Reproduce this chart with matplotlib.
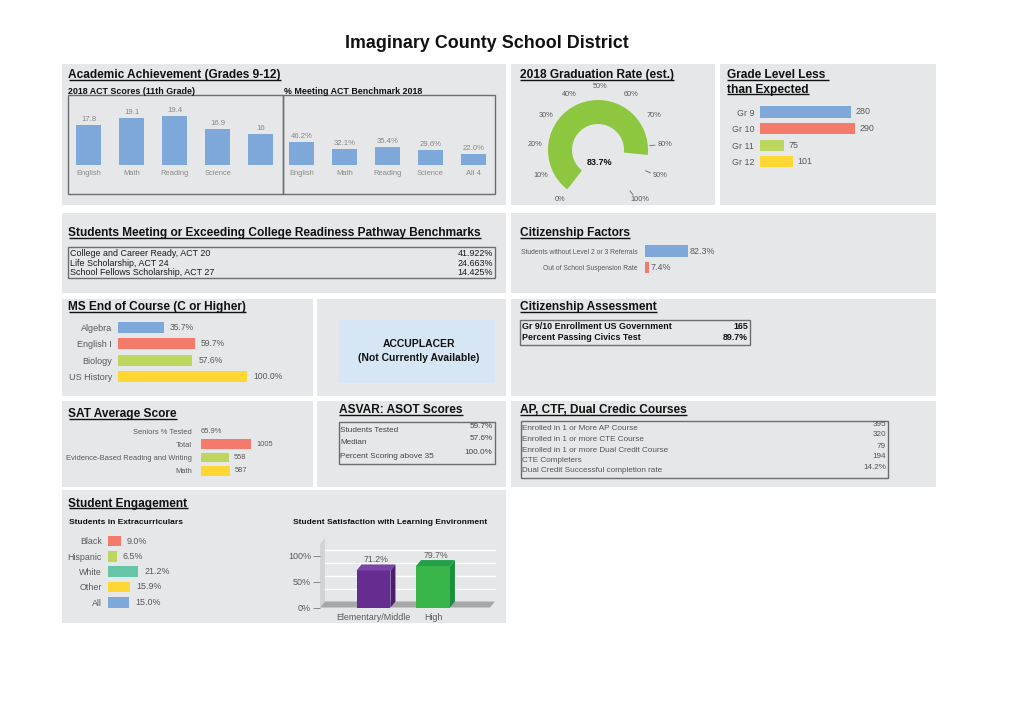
import matplotlib
matplotlib.use('Agg')
import matplotlib.pyplot as plt
from matplotlib.patches import Rectangle, Wedge, Polygon
from matplotlib.transforms import offset_copy
import numpy as np

plt.rcParams['font.family'] = ['Liberation Sans', 'DejaVu Sans']

# ---------------- data ----------------
main_title = "Imaginary County School District"

act_subjects = ["English", "Math", "Reading", "Science", ""]
act_scores = [17.8, 19.1, 19.4, 16.9, 16]
bench_subjects = ["English", "Math", "Reading", "Science", "All 4"]
bench_pct = [46.2, 32.1, 35.4, 29.6, 22.0]

grad_rate = 83.7
gauge_ticks = [0, 10, 20, 30, 40, 50, 60, 70, 80, 90, 100]

grade_labels = ["Gr 9", "Gr 10", "Gr 11", "Gr 12"]
grade_values = [280, 290, 75, 101]

ready_labels = ["College and Career Ready, ACT 20", "Life Scholarship, ACT 24",
                "School Fellows Scholarship, ACT 27"]
ready_values = ["41.922%", "24.663%", "14.425%"]

cit_labels = ["Students without Level 2 or 3 Referrals", "Out of School Suspension Rate"]
cit_values = [82.3, 7.4]

ms_labels = ["Algebra", "English I", "Biology", "US History"]
ms_values = [35.7, 59.7, 57.6, 100.0]

assess_labels = ["Gr 9/10 Enrollment US Government", "Percent Passing Civics Test"]
assess_values = ["165", "89.7%"]

sat_tested_label = "Seniors % Tested"
sat_tested_value = "65.9%"
sat_labels = ["Total", "Evidence-Based Reading and Writing", "Math"]
sat_values = [1005, 558, 587]

asvab_labels = ["Students Tested", "Median", "Percent Scoring above 35"]
asvab_values = ["59.7%", "57.6%", "100.0%"]

ap_labels = ["Enrolled in 1 or More AP Course", "Enrolled in 1 or more CTE Course",
             "Enrolled in 1 or more Dual Credit Course", "CTE Completers",
             "Dual Credit Successful completion rate"]
ap_values = ["395", "320", "79", "194", "14.2%"]

extra_labels = ["Black", "Hispanic", "White", "Other", "All"]
extra_values = [9.0, 6.5, 21.2, 15.9, 15.0]

env_labels = ["Elementary/Middle", "High"]
env_values = [71.2, 79.7]

# ---------------- styles ----------------
W, H = 1024, 720
PANEL = '#e6e7e8'
BLUE = '#7ea7da'
RED = '#f47b6b'
LGREEN = '#bdd75e'
YELLOW = '#fed732'
TEAL = '#66c5a6'
GGREEN = '#8dc63f'
LBL = '#595959'

fig = plt.figure(figsize=(W / 100, H / 100), dpi=100)
fig.patch.set_facecolor('white')
bg = fig.add_axes([0, 0, 1, 1])
bg.set_xlim(0, W)
bg.set_ylim(H, 0)
bg.axis('off')
bg.set_zorder(0)


def px_axes(x0, y0, x1, y1, z=2):
    ax = fig.add_axes([x0 / W, 1 - y1 / H, (x1 - x0) / W, (y1 - y0) / H])
    ax.patch.set_alpha(0)
    for s in ax.spines.values():
        s.set_visible(False)
    ax.set_zorder(z)
    return ax


def txt(x, y, s, size, color='#222', weight='normal', ha='left', va='center'):
    return bg.text(x, y, s, fontsize=size, color=color, fontweight=weight, ha=ha, va=va)


titles = []


def ptitle(x, y, s, size=8.6):
    t = bg.text(x, y, s, fontsize=size, fontweight='bold', color='#111',
                ha='left', va='baseline')
    titles.append((t, x, y))


# ---------------- panels ----------------
panels = [(62, 64, 506, 205), (511, 64, 715, 205), (720, 64, 936, 205),
          (62, 213, 506, 293), (511, 213, 936, 293),
          (62, 299, 313, 396), (317, 299, 506, 396), (511, 299, 936, 396),
          (62, 401, 313, 487), (317, 401, 506, 487), (511, 401, 936, 487),
          (62, 490, 506, 623)]
for x0, y0, x1, y1 in panels:
    bg.add_patch(Rectangle((x0, y0), x1 - x0, y1 - y0, facecolor=PANEL, edgecolor='none'))

bg.text(486.5, 48, main_title, fontsize=12.9, fontweight='bold', color='#111',
        ha='center', va='baseline')

# ---------------- horizontal bar helper ----------------
def hbars(x0, yc_first, spacing, px_per_unit, labels, values, colors, bar_h,
          label_size, label_gap, val_size, val_gap, fmt, width_px=200):
    n = len(values)
    y0 = yc_first - spacing / 2
    y1 = yc_first + spacing * (n - 0.5)
    ax = px_axes(x0, y0, x0 + width_px, y1)
    ax.set_xlim(0, width_px / px_per_unit)
    ax.set_ylim(n - 0.5, -0.5)
    ax.barh(np.arange(n), values, height=bar_h, color=colors)
    ax.set_yticks(np.arange(n))
    ax.set_yticklabels(labels, fontsize=label_size, color=LBL)
    ax.tick_params(axis='y', length=0, pad=label_gap * 0.72)
    ax.set_xticks([])
    tr = offset_copy(ax.transData, fig=fig, x=val_gap, y=0, units='dots')
    for i, v in enumerate(values):
        ax.text(v, i, fmt(v), transform=tr, fontsize=val_size, color=LBL,
                ha='left', va='center')
    return ax


# ---------------- Academic Achievement ----------------
ptitle(68.5, 78, "Academic Achievement (Grades 9-12)")
txt(68, 92, "2018 ACT Scores (11th Grade)", 6.4, '#111', 'bold')
txt(284.3, 92, "% Meeting ACT Benchmark 2018", 6.4, '#111', 'bold')
bg.add_patch(Rectangle((68, 95), 215, 99, fill=False, edgecolor='#6d6d6d', lw=1))
bg.add_patch(Rectangle((283, 95), 212, 99, fill=False, edgecolor='#6d6d6d', lw=1))


def vbars(x_left, x_right, first_center, spacing, y_top, y_bottom, ymin, px_per_unit,
          labels, values, fmt):
    ax = px_axes(x_left, y_top, x_right, y_bottom)
    n = len(values)
    ax.set_xlim(-(first_center - x_left) / spacing, (x_right - first_center) / spacing)
    ax.set_ylim(ymin, ymin + (y_bottom - y_top) / px_per_unit)
    ax.bar(np.arange(n), values, width=0.59, color=BLUE)
    ax.set_xticks(np.arange(n))
    ax.set_xticklabels(labels, fontsize=5.4, color='#888888')
    ax.tick_params(axis='x', length=0, pad=3.4)
    ax.set_yticks([])
    tr = offset_copy(ax.transData, fig=fig, x=0, y=2, units='dots')
    for i, v in enumerate(values):
        ax.text(i, v, fmt(v), transform=tr, ha='center', va='bottom',
                fontsize=5.6, color='#888888')
    return ax


vbars(68, 283, 88.7, 42.95, 100, 165.3, 10.07, 5.25, act_subjects, act_scores,
      lambda v: f"{v:g}")
vbars(283, 495, 301.8, 42.9, 100, 165.3, 0, 0.51, bench_subjects, bench_pct,
      lambda v: f"{v:.1f}%")

# ---------------- Graduation gauge ----------------
ptitle(520, 78, "2018 Graduation Rate (est.)")
gcx, gcy = 598, 150
gax = px_axes(gcx - 85, gcy - 85, gcx + 85, gcy + 85, z=3)
gax.set_xlim(-85, 85)
gax.set_ylim(-85, 85)
gax.axis('off')
a_start, a_end = 232, -52


def gang(p):
    return a_start + (a_end - a_start) * p / 100.0


gax.add_patch(Wedge((0, 0), 50, gang(grad_rate), a_start, width=24,
                    facecolor=GGREEN, edgecolor='none'))
for t in gauge_ticks:
    a = np.deg2rad(gang(t))
    gax.text(63 * np.cos(a) + 2 + 2 * np.cos(a), 63 * np.sin(a), f"{t}%",
             ha='center', va='center', fontsize=5.3, color=LBL)
    if t >= (grad_rate // 10) * 10:
        gax.plot([52 * np.cos(a), 57 * np.cos(a)], [52 * np.sin(a), 57 * np.sin(a)],
                 color='#777777', lw=0.7)
gax.text(2, -13, f"{grad_rate}%", ha='center', va='center', fontsize=6.5,
         fontweight='bold', color='#111')

# ---------------- Grade Level ----------------
ptitle(727.3, 78, "Grade Level Less ")
ptitle(727.3, 92.5, "than Expected")
hbars(759.7, 112, 16.6, 0.327, grade_labels, grade_values, [BLUE, RED, LGREEN, YELLOW],
      0.68, 6.4, 5.7, 6.4, 4.5, lambda v: f"{v}", width_px=150)

# ---------------- College readiness ----------------
ptitle(68.5, 235.8, "Students Meeting or Exceeding College Readiness Pathway Benchmarks")


def table(x0, y0, x1, y1, labels, values, label_ys, value_ys, size, color, weight='normal'):
    bg.add_patch(Rectangle((x0, y0), x1 - x0, y1 - y0, fill=False,
                           edgecolor='#6d6d6d', lw=1))
    for l, y in zip(labels, label_ys):
        txt(x0 + 1.5, y, l, size, color, weight)
    for v, y in zip(values, value_ys):
        txt(x1 - 2, y, v, size, color, weight, ha='right')


table(68, 246.5, 495, 278, ready_labels, ready_values,
      [253.5, 263, 272.5], [253.5, 263, 272.5], 6.4, '#1a1a1a')

# ---------------- Citizenship Factors ----------------
ptitle(520.3, 235.8, "Citizenship Factors")
hbars(645, 251.2, 16.3, 43 / 82.3, cit_labels, cit_values, [BLUE, RED], 0.72,
      4.9, 7.7, 6.4, 2, lambda v: f"{v:.1f}%", width_px=150)

# ---------------- MS End of Course ----------------
ptitle(68.5, 310, "MS End of Course (C or Higher)")
hbars(118, 327.3, 16.45, 1.29, ms_labels, ms_values, [BLUE, RED, LGREEN, YELLOW], 0.65,
      6.5, 6, 6.2, 6, lambda v: f"{v:.1f}%", width_px=150)

# ---------------- ACCUPLACER ----------------
bg.add_patch(Rectangle((339, 320), 155.5, 63, facecolor='#d6e6f5', edgecolor='none'))
txt(418.7, 344.3, "ACCUPLACER", 7.5, '#111', 'bold', ha='center')
txt(418.7, 358.3, "(Not Currently Available)", 7.5, '#111', 'bold', ha='center')

# ---------------- Citizenship Assessment ----------------
ptitle(520, 310, "Citizenship Assessment")
table(520, 320, 750, 345, assess_labels, assess_values,
      [326.7, 337.7], [326.7, 337.7], 6.4, '#111', 'bold')

# ---------------- SAT ----------------
ptitle(68.5, 417.5, "SAT Average Score")
sat_first, sat_sp = 431.3, 13.1
n_sat = len(sat_values) + 1
sax_ = px_axes(201, sat_first - sat_sp / 2, 301, sat_first + sat_sp * (n_sat - 0.5))
sax_.set_xlim(0, 100 / (50 / 1005))
sax_.set_ylim(n_sat - 0.5, -0.5)
sax_.barh(np.arange(1, n_sat), sat_values, height=0.76, color=[RED, LGREEN, YELLOW])
sax_.set_yticks(np.arange(n_sat))
sax_.set_yticklabels([sat_tested_label] + sat_labels, fontsize=5.4, color=LBL)
sax_.tick_params(axis='y', length=0, pad=9 * 0.72)
sax_.set_xticks([])
sax_.text(0, 0, sat_tested_value, fontsize=5.4, color=LBL, ha='left', va='center')
tr = offset_copy(sax_.transData, fig=fig, x=5, y=0, units='dots')
for i, v in enumerate(sat_values):
    sax_.text(v, i + 1, f"{v}", transform=tr, fontsize=5.4, color=LBL, ha='left',
              va='center')

# ---------------- ASVAR ----------------
ptitle(339.3, 413, "ASVAR: ASOT Scores")
table(339, 422, 494.5, 464, asvab_labels, asvab_values,
      [430.3, 443, 456.3], [426.3, 439, 452], 5.9, '#444444')

# ---------------- AP ----------------
ptitle(520, 413, "AP, CTF, Dual Credic Courses")
table(520.5, 420.5, 888, 477.5, ap_labels, ap_values,
      [428.7, 439.7, 450, 460.7, 470.7], [424, 434.7, 446.3, 456.3, 467.3],
      5.9, '#555555')

# ---------------- Student Engagement ----------------
ptitle(68.5, 506.5, "Student Engagement")
txt(69, 522, "Students in Extracurriculars", 6.0, '#111', 'bold')
txt(293, 522, "Student Satisfaction with Learning Environment", 6.0, '#111', 'bold')
hbars(107.7, 541, 15.3, 1.43, extra_labels, extra_values,
      [RED, LGREEN, TEAL, YELLOW, BLUE], 0.7, 6.4, 5.7, 6.4, 6,
      lambda v: f"{v:.1f}%", width_px=120)

# 3D-style column chart
spx, ypx = 59.5, 0.52
eax = px_axes(320, 538, 500, 607.5)
xl = -53.5 / spx
eax.set_xlim(xl, xl + 180 / spx)
eax.set_ylim(0, 69.5 / ypx)
ddx, ddy = 5 / spx, 6 / ypx
xr = xl + 170 / spx
eax.add_patch(Polygon([(xl, 0), (xl + ddx, ddy), (xl + ddx, 122 + ddy), (xl, 122)],
                      closed=True, facecolor='#d2d3d5', edgecolor='none', zorder=1))
eax.add_patch(Polygon([(xl, 0), (xr, 0), (xr + ddx, ddy), (xl + ddx, ddy)],
                      closed=True, facecolor='#a6a7a9', edgecolor='none', zorder=1))
for g in [25, 50, 75, 100]:
    eax.plot([xl + ddx, xr + ddx], [g + ddy, g + ddy], color='white', lw=1, zorder=1)
front = ['#662d91', '#3ab54a']
side = ['#4b1f6e', '#1b8f3d']
top = ['#7b45a6', '#22a048']
bw = 0.57
bars = eax.bar(np.arange(len(env_values)), env_values, width=bw, color=front, zorder=3)
for i, (b, v) in enumerate(zip(bars, env_values)):
    xa, xb = b.get_x(), b.get_x() + b.get_width()
    eax.add_patch(Polygon([(xb, 0), (xb + ddx, ddy), (xb + ddx, v + ddy), (xb, v)],
                          closed=True, facecolor=side[i], edgecolor='none', zorder=3))
    eax.add_patch(Polygon([(xa, v), (xa + ddx, v + ddy), (xb + ddx, v + ddy), (xb, v)],
                          closed=True, facecolor=top[i], edgecolor='none', zorder=3))
    eax.text(i + ddx / 2, v + ddy, f"{v:.1f}%", ha='center', va='bottom',
             fontsize=6.3, color=LBL, zorder=4)
eax.set_yticks([0, 50, 100])
eax.set_yticklabels([f"{t}%" for t in [0, 50, 100]], fontsize=6.5, color=LBL)
eax.tick_params(axis='y', length=5, color='#888888', width=0.7, pad=1.5)
eax.set_xticks(np.arange(len(env_labels)))
eax.set_xticklabels(env_labels, fontsize=6.4, color=LBL)
eax.tick_params(axis='x', length=0, pad=4)

# ---------------- underlines for panel titles ----------------
fig.canvas.draw()
renderer = fig.canvas.get_renderer()
for t, x, y in titles:
    bb = t.get_window_extent(renderer)
    bg.plot([x, x + bb.width], [y + 1.8, y + 1.8], color='#111', lw=1.0,
            solid_capstyle='butt')

fig.savefig('out.png', dpi=100, facecolor='white')
